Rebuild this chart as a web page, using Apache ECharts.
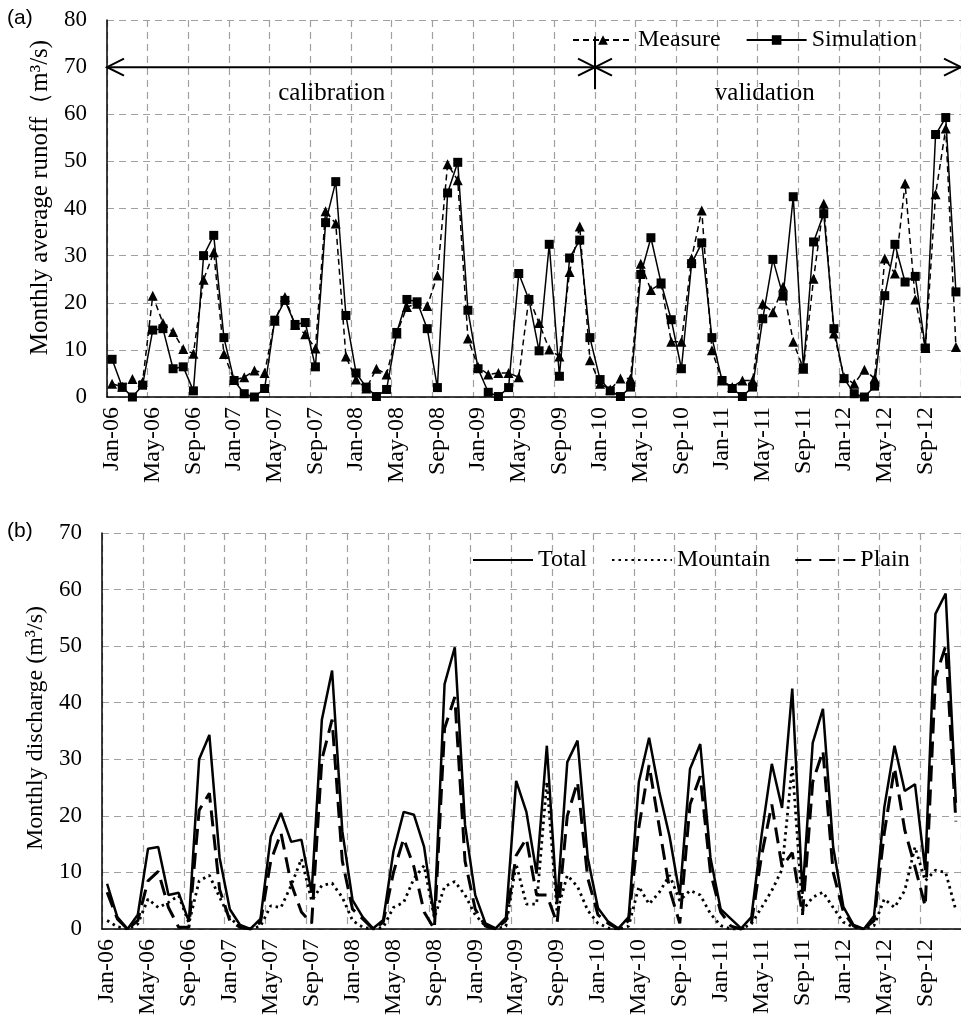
<!DOCTYPE html>
<html><head><meta charset="utf-8">
<script src="https://cdn.jsdelivr.net/npm/echarts@6/dist/echarts.min.js"></script>
<style>html,body{margin:0;padding:0;background:#fff;} #c{width:961px;height:1022px;}</style>
</head><body><div id="c"></div>
<script>
const months = [
 'Jan-06','Feb-06','Mar-06','Apr-06','May-06','Jun-06','Jul-06','Aug-06','Sep-06','Oct-06','Nov-06','Dec-06',
 'Jan-07','Feb-07','Mar-07','Apr-07','May-07','Jun-07','Jul-07','Aug-07','Sep-07','Oct-07','Nov-07','Dec-07',
 'Jan-08','Feb-08','Mar-08','Apr-08','May-08','Jun-08','Jul-08','Aug-08','Sep-08','Oct-08','Nov-08','Dec-08',
 'Jan-09','Feb-09','Mar-09','Apr-09','May-09','Jun-09','Jul-09','Aug-09','Sep-09','Oct-09','Nov-09','Dec-09',
 'Jan-10','Feb-10','Mar-10','Apr-10','May-10','Jun-10','Jul-10','Aug-10','Sep-10','Oct-10','Nov-10','Dec-10',
 'Jan-11','Feb-11','Mar-11','Apr-11','May-11','Jun-11','Jul-11','Aug-11','Sep-11','Oct-11','Nov-11','Dec-11',
 'Jan-12','Feb-12','Mar-12','Apr-12','May-12','Jun-12','Jul-12','Aug-12','Sep-12','Oct-12','Nov-12','Dec-12'];

const measure = [
 2.8, 2.2, 3.8, 3.2, 21.5, 15.7, 13.8, 10.2, 9.2, 24.9, 30.7, 9.1,
 3.6, 4.2, 5.6, 5.1, 16.2, 21.2, 15.3, 13.3, 10.3, 39.4, 36.8, 8.6,
 3.7, 1.8, 6.0, 4.8, 13.5, 19.1, 19.8, 19.3, 25.8, 49.4, 46.0, 12.4,
 6.4, 4.8, 5.1, 5.1, 4.2, 21.0, 15.7, 10.1, 8.6, 26.5, 36.2, 7.8,
 2.8, 1.6, 3.9, 3.9, 28.3, 22.7, 24.1, 11.7, 11.7, 29.4, 39.6, 9.9,
 3.5, 2.1, 3.5, 3.5, 19.8, 18.0, 23.4, 11.7, 6.0, 25.1, 41.0, 13.5,
 4.2, 2.8, 5.8, 3.9, 29.4, 26.2, 45.3, 20.7, 10.4, 43.0, 57.0, 10.6];

const simulation = [
 8, 2.1, 0, 2.5, 14.2, 14.5, 6, 6.4, 1.3, 30, 34.3, 12.6,
 3.5, 0.7, 0, 1.8, 16.3, 20.5, 15.4, 15.8, 6.4, 37, 45.7, 17.3,
 5.1, 2.1, 0.1, 1.6, 13.7, 20.7, 20.2, 14.5, 2, 43.3, 49.8, 18.4,
 6, 1, 0.1, 2, 26.2, 20.7, 9.8, 32.4, 4.4, 29.5, 33.3, 12.6,
 3.7, 1.3, 0.1, 2.1, 26, 33.8, 24.2, 16.4, 6, 28.3, 32.7, 12.6,
 3.5, 1.8, 0.1, 2.1, 16.6, 29.2, 21.4, 42.5, 6.2, 32.9, 38.9, 14.5,
 3.9, 0.7, 0, 2.3, 21.5, 32.4, 24.4, 25.6, 10.4, 55.7, 59.3, 22.3];

const total = simulation;

const mountain = [
 1.5, 0.4, 0, 0.9, 5.3, 3.8, 4.7, 5.9, 1, 8.5, 9.5, 5.6,
 2, 0.3, 0, 0.5, 4.1, 3.8, 7.7, 12.4, 5, 7.7, 8.1, 5.6,
 1.5, 0.3, 0, 0.3, 3.8, 4.7, 8.9, 11.2, 2, 7.5, 8.4, 6,
 2.5, 0.5, 0, 0.5, 11.5, 4.4, 4.4, 26, 3, 9.5, 7.5, 3.3,
 1, 0.2, 0, 0.5, 7.5, 4.4, 6.5, 9.5, 5, 6.8, 6, 2.7,
 0.6, 0, 0, 0.9, 3.8, 6.8, 10.5, 29, 3.3, 5.6, 6.5, 3.8,
 1.2, 0.3, 0, 0.6, 5.3, 3.8, 6.8, 14.5, 8.5, 10.4, 10, 3.3];

const plain = [
 6.5, 1.8, 0, 1.5, 8.5, 10.2, 3.8, 0.3, 0.3, 21, 24, 7,
 1.5, 0.3, 0, 1.2, 12, 17, 8, 3, 1, 30, 37, 12,
 3.5, 1.8, 0, 1.2, 10, 16, 11, 3, 0, 35.5, 41, 12,
 3.5, 0.5, 0, 1.5, 13, 16, 6, 6, 1, 20, 26, 9,
 2.5, 1, 0, 1.5, 18, 29, 18, 7, 1, 22, 27, 10,
 3, 0.5, 0, 1, 13, 22, 11, 13.5, 2.5, 26, 31.5, 10,
 3, 0.5, 0, 1.5, 17, 28.5, 17.5, 11, 4, 44.5, 50, 19];

const FONT = "'Liberation Serif','Times New Roman',serif";
const GRIDC = '#a0a0a0';

function xAx(gi){
  return {gridIndex:gi, type:'category', data:months, boundaryGap:true,
    axisLine:{lineStyle:{color:'#000',width:1.5}},
    axisTick:{interval:3,length:6,lineStyle:{color:'#000',width:1.2}},
    axisLabel:{interval:3,rotate:90,fontFamily:FONT,fontSize:24,color:'#000',margin:10},
    splitLine:{show:true,interval:3,lineStyle:{color:GRIDC,type:[7,5],width:1.2}}};
}
function yAx(gi,max,name,gap,fs,pad){
  return {gridIndex:gi, type:'value', min:0, max:max, interval:10,
    axisLine:{show:true,lineStyle:{color:'#000',width:1.5}},
    axisTick:{show:false},
    axisLabel:{fontFamily:FONT,fontSize:23,color:'#000',margin:20},
    splitLine:{lineStyle:{color:GRIDC,type:[7,5],width:1.2}},
    name:name, nameLocation:'middle', nameRotate:90, nameGap:gap,
    nameTextStyle:{fontFamily:FONT,fontSize:fs,color:'#000',padding:pad}};
}

const chart = echarts.init(document.getElementById('c'), null, {renderer:'canvas'});
const option = {
  animation:false,
  backgroundColor:'#fff',
  grid:[{left:107, top:20, right:-5, height:377},{left:102, top:533, right:-5, height:396}],
  xAxis:[xAx(0), xAx(1)],
  yAxis:[yAx(0,80,'Monthly average runoff（m³/s)',53,25,[0,0,0,22]),
         yAx(1,70,'Monthly discharge (m³/s)',53,24,[0,0,0,6])],
  legend:[
    {data:['Measure','Simulation'], left:567, top:23, itemWidth:60, itemHeight:12, itemGap:25,
     textStyle:{fontFamily:FONT,fontSize:24,color:'#000'}},
    {data:['Total','Mountain','Plain'], left:467, top:543, itemWidth:60, itemHeight:12, itemGap:24,
     itemStyle:{color:'transparent',borderColor:'transparent',borderWidth:0,opacity:0},
     textStyle:{fontFamily:FONT,fontSize:24,color:'#000'}}
  ],
  series:[
    {name:'Measure', type:'line', xAxisIndex:0, yAxisIndex:0, data:measure,
     symbol:'triangle', symbolSize:10, showAllSymbol:true,
     lineStyle:{color:'#000',width:1.5,type:[6,4]}, itemStyle:{color:'#000'}},
    {name:'Simulation', type:'line', xAxisIndex:0, yAxisIndex:0, data:simulation,
     symbol:'rect', symbolSize:9, showAllSymbol:true,
     lineStyle:{color:'#000',width:1.5}, itemStyle:{color:'#000'}},
    {name:'Total', type:'line', xAxisIndex:1, yAxisIndex:1, data:total, symbol:'none',
     lineStyle:{color:'#000',width:2.5}, itemStyle:{color:'#000'}},
    {name:'Mountain', type:'line', xAxisIndex:1, yAxisIndex:1, data:mountain, symbol:'none',
     lineStyle:{color:'#000',width:2.8,type:[2.5,4]}, itemStyle:{color:'#000'}},
    {name:'Plain', type:'line', xAxisIndex:1, yAxisIndex:1, data:plain, symbol:'none',
     lineStyle:{color:'#000',width:3,type:[16,8]}, itemStyle:{color:'#000'}}
  ]
};
chart.setOption(option);

// annotations positioned through the axes
const c0 = chart.convertToPixel({xAxisIndex:0}, 0);
const bw = chart.convertToPixel({xAxisIndex:0}, 1) - c0;
const bx = i => c0 + (i - 0.5) * bw;
const py = v => chart.convertToPixel({yAxisIndex:0}, v);
const yA = py(70);
const xL = bx(0), xM = bx(48), xR = bx(84);
const ax = 17, ay = 8.5;
const ls = {stroke:'#000', lineWidth:2, fill:null};
const poly = pts => ({type:'polyline', shape:{points:pts}, style:ls, silent:true});
chart.setOption({graphic:[
  poly([[xL,yA],[xR,yA]]),
  poly([[xL+ax,yA-ay],[xL,yA],[xL+ax,yA+ay]]),
  poly([[xM-ax,yA-ay],[xM,yA],[xM-ax,yA+ay]]),
  poly([[xM+ax,yA-ay],[xM,yA],[xM+ax,yA+ay]]),
  poly([[xR-ax,yA-ay],[xR,yA],[xR-ax,yA+ay]]),
  poly([[xM,py(76.5)],[xM,py(65.3)]]),
  {type:'text', silent:true, style:{text:'calibration', x:c0+21.6*bw, y:py(64.4), fill:'#000',
    font:"25px 'Liberation Serif', serif", textAlign:'center', textVerticalAlign:'middle'}},
  {type:'text', silent:true, style:{text:'validation', x:c0+64.2*bw, y:py(64.4), fill:'#000',
    font:"25px 'Liberation Serif', serif", textAlign:'center', textVerticalAlign:'middle'}},
  {type:'text', silent:true, left:7, top:8, style:{text:'(a)', fill:'#000',
    font:"21px 'Liberation Sans', Arial, sans-serif"}},
  {type:'text', silent:true, left:7, top:521, style:{text:'(b)', fill:'#000',
    font:"21px 'Liberation Sans', Arial, sans-serif"}}
]});
</script>
</body></html>
